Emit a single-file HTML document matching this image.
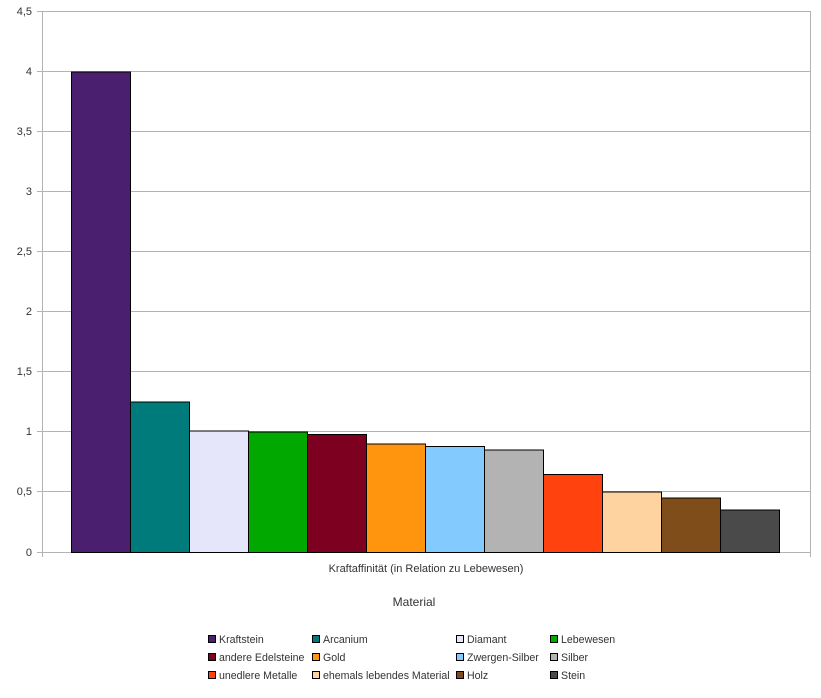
<!DOCTYPE html>
<html><head><meta charset="utf-8"><style>
html,body{margin:0;padding:0;background:#fff;}
svg{display:block;font-family:"Liberation Sans",sans-serif;}
</style></head><body>
<svg width="821" height="698" viewBox="0 0 821 698" xmlns="http://www.w3.org/2000/svg">
<rect width="821" height="698" fill="#fff"/>
<g stroke="#b3b3b3" stroke-width="1">
<line x1="37" y1="11.5" x2="810" y2="11.5"/>
<line x1="37" y1="71.5" x2="810" y2="71.5"/>
<line x1="37" y1="131.5" x2="810" y2="131.5"/>
<line x1="37" y1="191.5" x2="810" y2="191.5"/>
<line x1="37" y1="251.5" x2="810" y2="251.5"/>
<line x1="37" y1="311.5" x2="810" y2="311.5"/>
<line x1="37" y1="371.5" x2="810" y2="371.5"/>
<line x1="37" y1="431.5" x2="810" y2="431.5"/>
<line x1="37" y1="491.5" x2="810" y2="491.5"/>
<line x1="37" y1="552.5" x2="810" y2="552.5"/>
<line x1="42.5" y1="11" x2="42.5" y2="557"/>
<line x1="810.5" y1="11" x2="810.5" y2="557"/>
</g>
<g font-size="11" fill="#333" text-anchor="end">
<text x="32" y="15">4,5</text>
<text x="32" y="75">4</text>
<text x="32" y="135">3,5</text>
<text x="32" y="195">3</text>
<text x="32" y="255">2,5</text>
<text x="32" y="315">2</text>
<text x="32" y="375">1,5</text>
<text x="32" y="435">1</text>
<text x="32" y="495">0,5</text>
<text x="32" y="556">0</text>
</g>
<g stroke="#000" stroke-width="1">
<rect x="71.5" y="72" width="59" height="480.5" fill="#4b1f6f"/>
<rect x="130.5" y="402" width="59" height="150.5" fill="#007b7b"/>
<rect x="189.5" y="431" width="59" height="121.5" fill="#e6e6fa"/>
<rect x="248.5" y="432" width="59" height="120.5" fill="#00a800"/>
<rect x="307.5" y="434.5" width="59" height="118" fill="#7d0021"/>
<rect x="366.5" y="444" width="59" height="108.5" fill="#ff950e"/>
<rect x="425.5" y="446.5" width="59" height="106" fill="#83caff"/>
<rect x="484.5" y="450" width="59" height="102.5" fill="#b3b3b3"/>
<rect x="543.5" y="474.5" width="59" height="78" fill="#ff420e"/>
<rect x="602.5" y="492" width="59" height="60.5" fill="#ffd3a0"/>
<rect x="661.5" y="498" width="59" height="54.5" fill="#7f4d19"/>
<rect x="720.5" y="510" width="59" height="42.5" fill="#4a4a4a"/>
</g>
<text x="426" y="572" font-size="11" fill="#333" text-anchor="middle">Kraftaffinität (in Relation zu Lebewesen)</text>
<text x="414" y="606" font-size="12" fill="#333" text-anchor="middle">Material</text>
<g font-size="10.6" fill="#333" stroke-width="1">
<rect x="208.5" y="635.5" width="7" height="7" fill="#4b1f6f" stroke="#000"/><text x="219" y="643">Kraftstein</text>
<rect x="312.5" y="635.5" width="7" height="7" fill="#007b7b" stroke="#000"/><text x="323" y="643">Arcanium</text>
<rect x="456.5" y="635.5" width="7" height="7" fill="#e6e6fa" stroke="#000"/><text x="467" y="643">Diamant</text>
<rect x="550.5" y="635.5" width="7" height="7" fill="#00a800" stroke="#000"/><text x="561" y="643">Lebewesen</text>
<rect x="208.5" y="653.5" width="7" height="7" fill="#7d0021" stroke="#000"/><text x="219" y="661">andere Edelsteine</text>
<rect x="312.5" y="653.5" width="7" height="7" fill="#ff950e" stroke="#000"/><text x="323" y="661">Gold</text>
<rect x="456.5" y="653.5" width="7" height="7" fill="#83caff" stroke="#000"/><text x="467" y="661">Zwergen-Silber</text>
<rect x="550.5" y="653.5" width="7" height="7" fill="#b3b3b3" stroke="#000"/><text x="561" y="661">Silber</text>
<rect x="208.5" y="671.5" width="7" height="7" fill="#ff420e" stroke="#000"/><text x="219" y="679">unedlere Metalle</text>
<rect x="312.5" y="671.5" width="7" height="7" fill="#ffd3a0" stroke="#000"/><text x="323" y="679">ehemals lebendes Material</text>
<rect x="456.5" y="671.5" width="7" height="7" fill="#7f4d19" stroke="#000"/><text x="467" y="679">Holz</text>
<rect x="550.5" y="671.5" width="7" height="7" fill="#4a4a4a" stroke="#000"/><text x="561" y="679">Stein</text>
</g>
</svg>
</body></html>
